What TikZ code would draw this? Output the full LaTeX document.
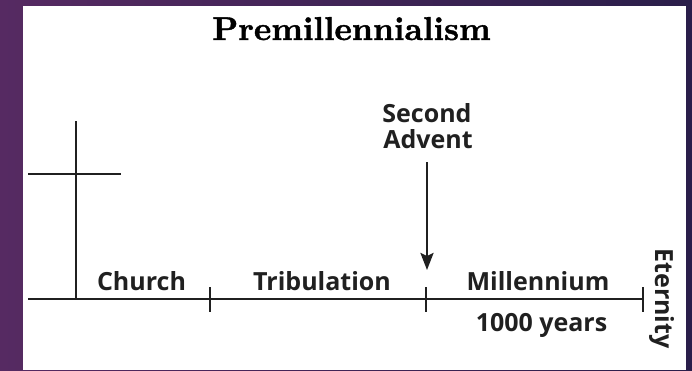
\documentclass[tikz,border=0pt]{standalone}
\usepackage{fontspec}
\newfontfamily\titlefont{lmroman10-bold}[Extension=.otf, FakeBold=1.2]
\newfontfamily\labelfont{Open Sans}
\usetikzlibrary{arrows.meta}
\definecolor{bgleft}{RGB}{86,42,98}
\definecolor{bgright}{RGB}{42,30,74}
\definecolor{ink}{RGB}{32,32,32}
\tikzset{
  rule/.style={draw=ink, line width=2.8pt},
  tick/.style={draw=ink, line width=2.4pt},
  lbl/.style={text=ink, inner sep=0pt, anchor=base, font=\labelfont\bfseries\fontsize{25}{27}\selectfont},
  ttl/.style={text=black, inner sep=0pt, anchor=base, font=\titlefont\fontsize{33}{36}\selectfont}
}
\begin{document}
\begin{tikzpicture}[x=1pt,y=-1pt]
\useasboundingbox (0,0) rectangle (692,370);
\shade[left color=bgleft, right color=bgright] (0,0) rectangle (692,370);
\fill[white] (23,6) rectangle (686,370);

\node[ttl] (title) at (351.5,40) {Premillennialism};

% timeline coordinates
\coordinate (L) at (28,299);
\coordinate (T1) at (210,299);
\coordinate (T2) at (426,299);
\coordinate (R) at (643,299);
\coordinate (T1a) at (210,287);
\coordinate (T1b) at (210,312);
\coordinate (T2a) at (426,287);
\coordinate (T2b) at (426,312);
\coordinate (Ra) at (643,287);
\coordinate (Rb) at (643,312);

\draw[rule] (L) -- (R);
\draw[tick] (T1a) -- (T1b);
\draw[tick] (T2a) -- (T2b);
\draw[tick] (Ra) -- (Rb);

% cross
\coordinate (cTop) at (76,121);
\coordinate (cBot) at (76,299);
\coordinate (cL) at (28,174);
\coordinate (cR) at (121,174);
\draw[rule] (cTop) -- (cBot);
\draw[rule] (cL) -- (cR);

% labels
\node[lbl] (church) at (141.5,290) {Church};
\node[lbl] (trib) at (322,290) {Tribulation};
\node[lbl] (mill) at (538,290) {Millennium};
\node[lbl] (years) at (541.5,331) {1000 years};
\node[lbl] (second) at (427,122) {Second};
\node[lbl] (advent) at (428,148) {Advent};
\node[lbl, rotate=-90] (eternity) at (655,298.5) {Eternity};

% arrow
\coordinate (aTop) at (427,162);
\coordinate (aTip) at (427,270);
\draw[draw=ink, line width=2.4pt, -{Stealth[length=17pt, width=13pt, inset=3pt]}] (aTop) -- (aTip);
\end{tikzpicture}
\end{document}
